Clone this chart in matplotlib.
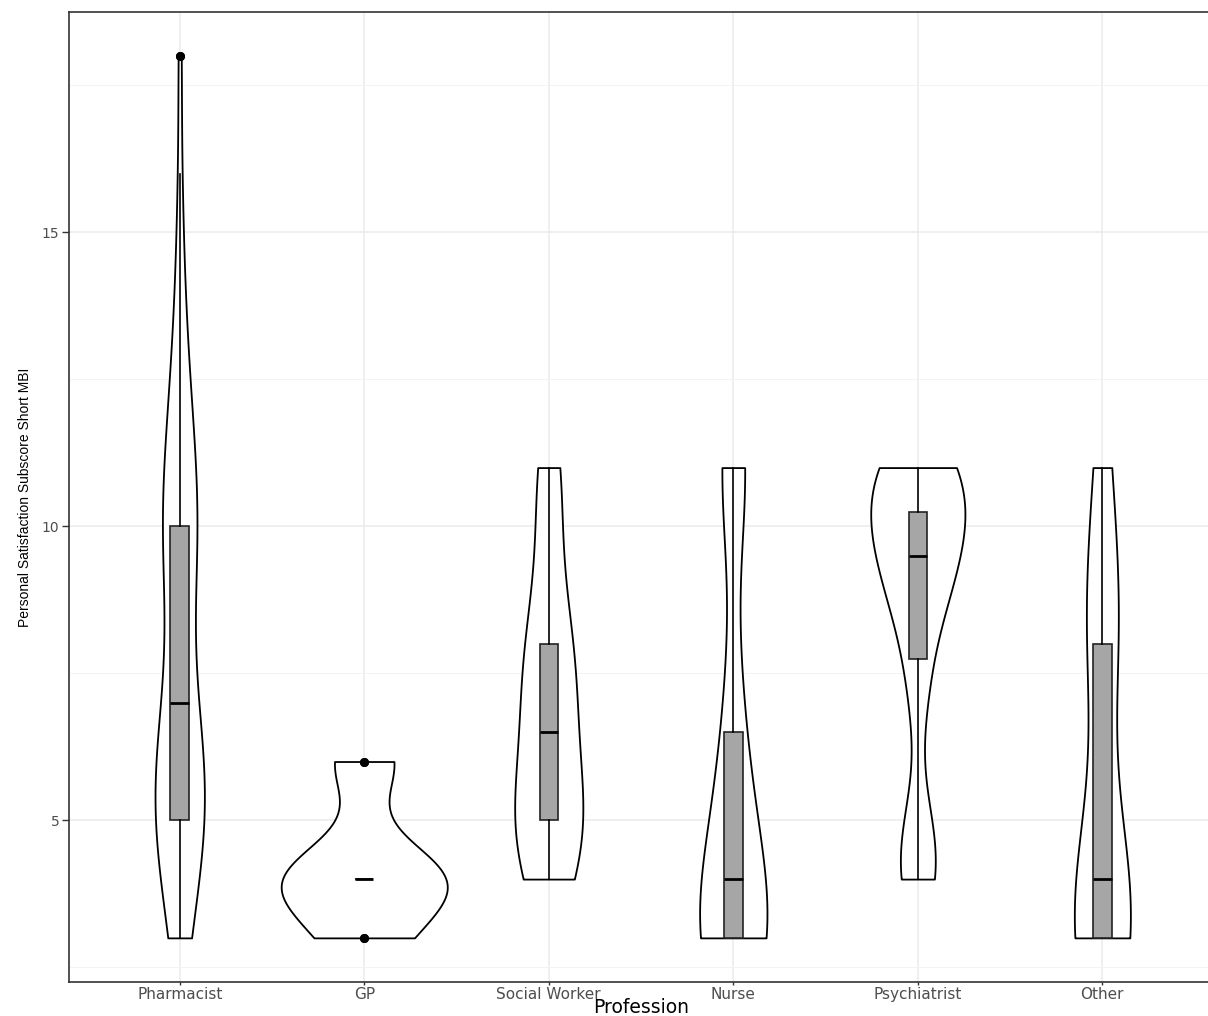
import numpy as np
import matplotlib.pyplot as plt

# Personal satisfaction subscore (short MBI) by profession
professions = ['Pharmacist', 'GP', 'Social Worker', 'Nurse', 'Psychiatrist', 'Other']

# score values and how many respondents gave each score
pharmacist_values = [3, 4, 5, 6, 7, 8, 9, 10, 11, 12, 13, 14, 15, 16, 18]
pharmacist_counts = [7, 8, 17, 14, 8, 5, 7, 12, 8, 6, 4, 2, 2, 1, 2]
gp_values = [3, 4, 6]
gp_counts = [2, 5, 2]
social_worker_values = [4, 5, 6, 7, 8, 9, 10, 11]
social_worker_counts = [3, 5, 2, 3, 3, 1, 1, 2]
nurse_values = [3, 5, 7, 11]
nurse_counts = [5, 2, 1, 2]
psychiatrist_values = [4, 5, 7, 8, 9, 10, 11]
psychiatrist_counts = [5, 3, 2, 3, 7, 10, 10]
other_values = [3, 4, 8, 9, 11]
other_counts = [4, 2, 2, 1, 1]

groups = [np.repeat(pharmacist_values, pharmacist_counts),
          np.repeat(gp_values, gp_counts),
          np.repeat(social_worker_values, social_worker_counts),
          np.repeat(nurse_values, nurse_counts),
          np.repeat(psychiatrist_values, psychiatrist_counts),
          np.repeat(other_values, other_counts)]


def ydensity(x, n=512):
    # gaussian kde with R's bw.nrd0, trimmed to the data range (like ggplot)
    x = np.asarray(x, float)
    sd = x.std(ddof=1)
    q1, q3 = np.percentile(x, [25, 75])
    lo = min(sd, (q3 - q1) / 1.34) or sd
    bw = 0.9 * lo * len(x) ** -0.2
    grid = np.linspace(x.min(), x.max(), n)
    z = (grid[:, None] - x[None, :]) / bw
    dens = np.exp(-0.5 * z ** 2).sum(axis=1) / (len(x) * bw * np.sqrt(2 * np.pi))
    return grid, dens


stats = []
for g in groups:
    grid, dens = ydensity(g)
    stats.append(dict(coords=grid, vals=dens, mean=np.mean(g), median=np.median(g),
                      min=np.min(g), max=np.max(g)))

# scale = "area": every violin relative to the highest density overall
peak = max(s['vals'].max() for s in stats)
widths = [0.9 * s['vals'].max() / peak for s in stats]
positions = np.arange(1, len(groups) + 1)

fig = plt.figure(figsize=(12.08, 10.16), dpi=100)
ax = fig.add_axes([0.0571, 0.0335, 0.9471, 0.9547])

parts = ax.violin(stats, positions=positions, widths=widths,
                  showmeans=False, showextrema=False, showmedians=False)
for body in parts['bodies']:
    body.set_facecolor('white')
    body.set_edgecolor('black')
    body.set_linewidth(1.3)
    body.set_alpha(1)
    body.set_zorder(2)

ax.boxplot(groups, positions=positions, widths=0.1, patch_artist=True,
           showcaps=False, whis=1.5, manage_ticks=False,
           boxprops=dict(facecolor='#a6a6a6', edgecolor='#222222', linewidth=1.2),
           whiskerprops=dict(color='black', linewidth=1.2),
           medianprops=dict(color='black', linewidth=2.0),
           flierprops=dict(marker='o', markerfacecolor='black', markeredgecolor='black',
                           markersize=5.5),
           zorder=3)

ax.set_xlim(0.4, 6.6)
ax.set_ylim(2.25, 18.75)
ax.set_xticks(positions)
ax.set_xticklabels(professions)
ax.set_yticks([5, 10, 15])
ax.set_yticks([2.5, 7.5, 12.5, 17.5], minor=True)

ax.set_axisbelow(True)
ax.grid(True, which='major', color='#ebebeb', linewidth=1.1)
ax.grid(True, which='minor', axis='y', color='#f3f3f3', linewidth=0.7)

ax.tick_params(axis='x', which='major', length=2.4, width=1.0, color='#333333',
               labelcolor='#4d4d4d', labelsize=11, pad=1.5)
ax.tick_params(axis='y', which='major', length=5, width=1.0, color='#333333',
               labelcolor='#4d4d4d', labelsize=10, pad=2)
ax.tick_params(axis='y', which='minor', length=0)
for side in ax.spines.values():
    side.set_color('#333333')
    side.set_linewidth(1.2)

ax.set_xlabel('Profession', fontsize=13.5)
ax.xaxis.set_label_coords(0.5, -0.0165)
ax.set_ylabel('Personal Satisfaction Subscore Short MBI',
              family='Liberation Sans', fontsize=10)
ax.yaxis.set_label_coords(-0.032, 0.5)

fig.savefig('out.png', dpi=100)
